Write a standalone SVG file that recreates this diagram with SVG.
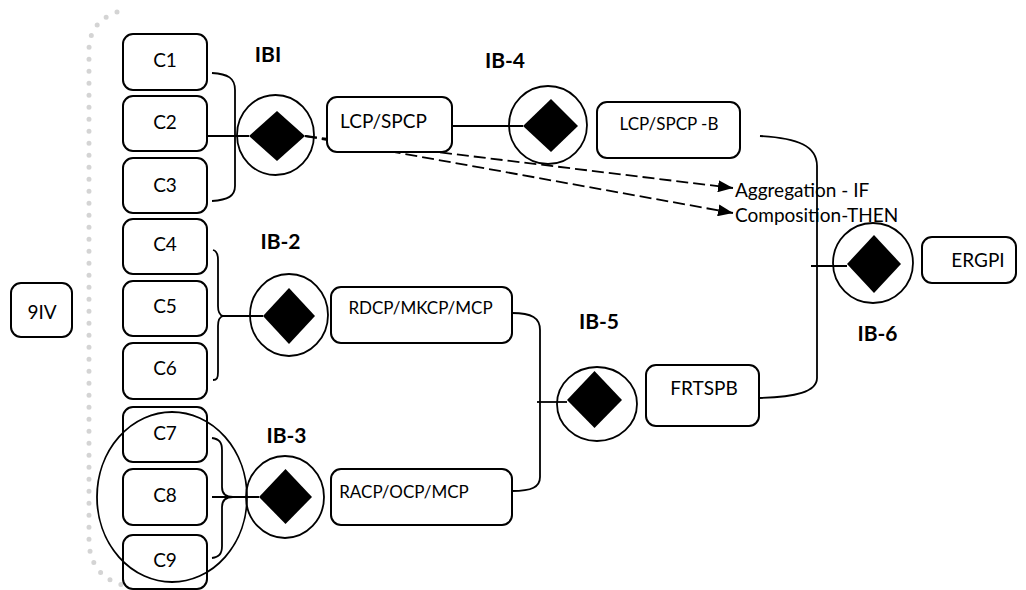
<svg xmlns="http://www.w3.org/2000/svg" width="1026" height="590" viewBox="0 0 1026 590">
<defs>
<style>
.box{fill:#fff;stroke:#000;stroke-width:2}
.t{font-family:Lato,"Open Sans","Liberation Sans",sans-serif;font-size:19px;fill:#000;text-anchor:middle}
.s{font-family:Lato,"Open Sans","Liberation Sans",sans-serif;font-size:17px;fill:#000;text-anchor:middle}
.b{font-family:Lato,"Open Sans","Liberation Sans",sans-serif;font-size:21px;font-weight:bold;fill:#000;text-anchor:middle}
.ring{fill:none;stroke:#000;stroke-width:1.8}
.dia{fill:#000}
.ln{fill:none;stroke:#000;stroke-width:1.8}
.dash{fill:none;stroke:#000;stroke-width:1.8;stroke-dasharray:12 5}
</style>
<marker id="ah" markerWidth="15" markerHeight="12" refX="15" refY="6" orient="auto" markerUnits="userSpaceOnUse">
<path d="M0,0 L15,6 L0,12 Z" fill="#000"/>
</marker>
</defs>
<rect width="1026" height="590" fill="#fff"/>
<path d="M117,12 C100,18 89,30 89,50 L89,540 C89,562 100,580 126,586" fill="none" stroke="#d4d4d4" stroke-width="5" stroke-linecap="round" stroke-dasharray="0 12"/>

<g id="connectors">
<path class="ln" d="M212,73 C228,74 235,78 235,90 L235,186 C235,196 228,200 212,201"/>
<path class="ln" d="M208,136 L249,136"/>
<path class="ln" d="M213,250 C217,251 218,254 218,260 L218,306 C218,312 219,315 223,316 C219,317 218,320 218,326 L218,372 C218,378 217,380 213,380"/>
<path class="ln" d="M223,316 L263,316"/>
<path class="ln" d="M212,438 C219,439 222,442 222,450 L222,487 C222,494 226,497 233,497 C226,497 222,500 222,507 L222,546 C222,554 219,557 212,558"/>
<path class="ln" d="M212,497 L259,497"/>
<path class="ln" d="M452,126 L523,126"/>
<path class="dash" d="M305,136 L733,188" marker-end="url(#ah)"/>
<path class="dash" d="M305,136 L733,213" marker-end="url(#ah)"/>
<path class="ln" d="M512,313 C532,313 540,318 540,330 L540,477 C540,487 532,491 512,491"/>
<path class="ln" d="M537,402 L567,402"/>
<path class="ln" d="M760,136 C798,138 817,146 817,166 L817,378 C817,392 795,397 760,398"/>
<path class="ln" d="M811,266 L847,266"/>
</g>

<g id="C1"><rect class="box" x="123" y="34" width="84" height="56" rx="10"/><text class="t" x="165" y="67">C1</text></g>
<g id="C2"><rect class="box" x="123" y="96" width="84" height="55" rx="10"/><text class="t" x="165" y="129">C2</text></g>
<g id="C3"><rect class="box" x="123" y="158" width="84" height="55" rx="10"/><text class="t" x="165" y="192">C3</text></g>
<g id="C4"><rect class="box" x="123" y="219" width="84" height="55" rx="10"/><text class="t" x="165" y="251">C4</text></g>
<g id="C5"><rect class="box" x="123" y="281" width="84" height="55" rx="10"/><text class="t" x="165" y="313">C5</text></g>
<g id="C6"><rect class="box" x="123" y="343" width="84" height="56" rx="10"/><text class="t" x="165" y="375">C6</text></g>
<g id="C7"><rect class="box" x="123" y="407" width="84" height="55" rx="10"/><text class="t" x="165" y="440">C7</text></g>
<g id="C8"><rect class="box" x="123" y="469" width="84" height="56" rx="10"/><text class="t" x="165" y="502">C8</text></g>
<g id="C9"><rect class="box" x="123" y="535" width="84" height="54" rx="10"/><text class="t" x="165" y="567">C9</text></g>
<g id="group-C7-C9"><ellipse class="ring" cx="172" cy="497" rx="75" ry="85"/></g>

<g id="9IV"><rect class="box" x="11" y="283" width="61" height="54" rx="10"/><text class="t" x="42" y="319">9IV</text></g>

<g id="IBI"><ellipse class="ring" cx="275.5" cy="135" rx="38.5" ry="40"/><path class="dia" d="M249,136 L277,111 L305,136 L277,161 Z"/><text class="b" x="268" y="62">IBI</text></g>
<g id="IB-2"><ellipse class="ring" cx="289" cy="315" rx="39" ry="41"/><path class="dia" d="M263,316 L289,288 L315,316 L289,344 Z"/><text class="b" x="280.5" y="249">IB-2</text></g>
<g id="IB-3"><ellipse class="ring" cx="285" cy="497" rx="39" ry="41"/><path class="dia" d="M259,497 L285.5,469 L312,497 L285.5,524 Z"/><text class="b" x="286.5" y="443">IB-3</text></g>
<g id="IB-4"><ellipse class="ring" cx="548" cy="125" rx="39" ry="39"/><path class="dia" d="M523,126 L551,99 L578,126 L551,152 Z"/><text class="b" x="505" y="68">IB-4</text></g>
<g id="IB-5"><ellipse class="ring" cx="597" cy="404" rx="40" ry="37"/><path class="dia" d="M567,400 L594.5,371 L622,400 L594.5,428 Z"/><text class="b" x="599" y="329">IB-5</text></g>
<g id="IB-6"><ellipse class="ring" cx="873" cy="263" rx="40" ry="40"/><path class="dia" d="M847,264 L874,235 L901,264 L874,293 Z"/><text class="b" x="877.5" y="341">IB-6</text></g>

<g id="LCP-SPCP"><rect class="box" x="327" y="97" width="125" height="55" rx="10"/><text class="t" x="383.5" y="128">LCP/SPCP</text></g>
<g id="LCP-SPCP-B"><rect class="box" x="597" y="102" width="143" height="56" rx="10"/><text class="s" x="669" y="130">LCP/SPCP -B</text></g>
<g id="RDCP-MKCP-MCP"><rect class="box" x="331" y="287" width="181" height="56" rx="10"/><text class="s" x="420.5" y="314">RDCP/MKCP/MCP</text></g>
<g id="RACP-OCP-MCP"><rect class="box" x="331" y="469" width="181" height="56" rx="10"/><text class="s" x="404" y="498">RACP/OCP/MCP</text></g>
<g id="FRTSPB"><rect class="box" x="646" y="365" width="113" height="61" rx="10"/><text class="t" x="704" y="395">FRTSPB</text></g>
<g id="ERGPI"><rect class="box" x="922" y="237" width="94" height="46" rx="10"/><text class="t" x="978" y="267">ERGPI</text></g>

<g id="legend">
<text class="t" style="text-anchor:start" x="735" y="197">Aggregation - IF</text>
<text class="t" style="text-anchor:start" x="735" y="222">Composition-THEN</text>
</g>
</svg>
